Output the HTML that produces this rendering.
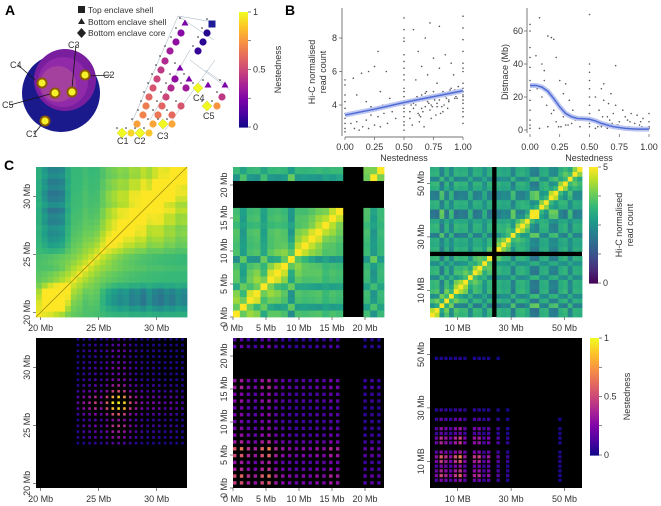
<!DOCTYPE html>
<html><head><meta charset="utf-8">
<style>
html,body{margin:0;padding:0;background:#fff;}
svg{display:block;font-family:"Liberation Sans",sans-serif;}
.t{font-size:9px;fill:#333;}
.lab{font-size:14px;font-weight:bold;fill:#000;}
</style></head>
<body>
<svg id="fig" width="661" height="506" viewBox="0 0 661 506">
<text class="lab" x="5" y="15">A</text>
<text class="lab" x="285" y="15">B</text>
<text class="lab" x="4" y="170">C</text>
<g>
<rect x="78" y="6" width="7" height="7" fill="#222"/><text class="t" x="88" y="13" style="font-size:8.5px">Top enclave shell</text>
<polygon points="81.5,18 78,24 85,24" fill="#222"/><text class="t" x="88" y="25" style="font-size:8.5px">Bottom enclave shell</text>
<polygon points="81.5,28 86,33 81.5,38 77,33" fill="#222"/><text class="t" x="88" y="36" style="font-size:8.5px">Bottom enclave core</text>
</g>
<g id="circ">
<circle cx="61" cy="93" r="39" fill="#1a1a8c"/>
<circle cx="65" cy="80" r="31" fill="#7a1ea0"/>
<circle cx="63" cy="82" r="25" fill="#902aa8"/>
<circle cx="58" cy="84" r="18" fill="#a4409e"/>
</g>
<g id="tree"></g>
<g id="g" ></g>
</svg>
<script>
const NS="http://www.w3.org/2000/svg";
const fig=document.getElementById('g');
function el(tag,attrs,parent,text){const e=document.createElementNS(NS,tag);for(const k in attrs)e.setAttribute(k,attrs[k]);if(text!==undefined)e.textContent=text;(parent||fig).appendChild(e);return e;}
const VIR=[[68,1,84],[72,40,120],[62,74,137],[49,104,142],[38,130,142],[31,158,137],[53,183,121],[109,205,89],[180,222,44],[253,231,37]];
const PLA=[[13,8,135],[75,3,161],[125,3,168],[168,34,150],[203,70,121],[229,107,93],[248,148,65],[253,195,40],[240,249,33]];
function cmap(st,v){v=Math.max(0,Math.min(1,v));const p=v*(st.length-1);const i=Math.min(st.length-2,Math.floor(p));const f=p-i;const a=st[i],b=st[i+1];return `rgb(${Math.round(a[0]+(b[0]-a[0])*f)},${Math.round(a[1]+(b[1]-a[1])*f)},${Math.round(a[2]+(b[2]-a[2])*f)})`;}

// ---------- Panel A data ----------
const circDots=[[42,83,'C4'],[55,93,'C5'],[72,92,'C3'],[85,75,'C2'],[45,121,'C1']];
const circLabels=[[10,68,35,80,'C4'],[68,48,72,88,'C3'],[103,78,88,76,'C2'],[2,108,50,94,'C5'],[26,137,42,124,'C1']];
const cg=document.getElementById('circ');
circLabels.forEach(l=>{const ln=el('line',{x1:l[0]+8,y1:l[1]-3,x2:l[2],y2:l[3],stroke:'#111','stroke-width':0.8},cg);

const t=el('text',{x:l[0],y:l[1],class:'t','font-size':'8.5'},cg,l[4]);
});
circDots.forEach(d=>{el('circle',{cx:d[0],cy:d[1],r:5.5,fill:'#8a5a00'},cg);const c=el('circle',{cx:d[0],cy:d[1],r:3.6,fill:'#f5f02a'},cg);
});

const treeNodes=[
[122,133,'d',1],[131,133,'c',0.92],[140,133,'d',1],[149,133,'c',0.88],
[137,124,'c',0.78],[153,124,'c',0.8],[163,124,'d',1],[172,124,'c',0.8],
[143,115,'c',0.7],[158,115,'c',0.66],[172,115,'c',0.62],
[146,106,'c',0.68],[162,106,'c',0.6],[181,106,'c',0.55],[207,106,'d',1],[217,106,'c',0.75],
[149,97,'c',0.6],[166,97,'c',0.5],[222,97,'c',0.45],
[153,88,'c',0.55],[171,88,'c',0.4],[186,88,'c',0.35],[198,88,'d',1],
[157,79,'c',0.5],[175,79,'c',0.3],[208,85,'t',0.25],[225,85,'t',0.25],
[161,70,'c',0.45],[189,79,'t',0.25],
[165,61,'c',0.4],[180,68,'t',0.25],
[170,51,'c',0.35],[198,51,'c',0.08],
[176,42,'c',0.3],[203,42,'c',0.06],
[181,33,'c',0.28],[207,33,'c',0.05],
[185,23,'t',0.25],[212,24,'s',0.0]];
const tg=document.getElementById('tree');
const edges=[[132,122,178,16],[178,16,214,40],[178,16,213,22],[150,120,190,50],[165,130,215,60],[190,60,230,90],[205,70,225,84]];
edges.forEach(e=>{const l=el('line',{x1:e[0],y1:e[1],x2:e[2],y2:e[3],stroke:'#9ab','stroke-width':0.5},tg);});
treeNodes.forEach(n=>{const col=cmap(PLA,n[3]);let s;
if(n[2]==='c')s=el('circle',{cx:n[0],cy:n[1],r:3.6,fill:col},tg);
else if(n[2]==='d')s=el('polygon',{points:`${n[0]},${n[1]-5} ${n[0]+5},${n[1]} ${n[0]},${n[1]+5} ${n[0]-5},${n[1]}`,fill:col,stroke:'#cc2','stroke-width':0.5},tg);
else if(n[2]==='t')s=el('polygon',{points:`${n[0]},${n[1]-3.5} ${n[0]+3.5},${n[1]+2.5} ${n[0]-3.5},${n[1]+2.5}`,fill:col},tg);
else s=el('rect',{x:n[0]-3.5,y:n[1]-3.5,width:7,height:7,fill:'#1c1c96'},tg);

el('circle',{cx:n[0]-5,cy:n[1]-5,r:0.8,fill:'#222'},tg);});
[[117,144,'C1'],[134,144,'C2'],[157,139,'C3'],[193,101,'C4'],[203,119,'C5']].forEach(l=>{const t=el('text',{x:l[0],y:l[1],class:'t','font-size':'8.5'},tg,l[2]);});

function colorbar(x,y,w,h,st,ticks,labels,title,name){
 const g=el('g',{});
 const n=60;for(let i=0;i<n;i++){el('rect',{x:x,y:y+h*i/n,width:w,height:h/n+0.6,fill:cmap(st,1-i/n)},g);}
 ticks.forEach((tv,i)=>{const yy=y+h*(1-tv);el('line',{x1:x+w,x2:x+w+3,y1:yy,y2:yy,stroke:'#333','stroke-width':0.6},g);
 if(labels[i]!=='')el('text',{x:x+w+5,y:yy+3,class:'t'},g,labels[i]);});
 title.forEach((tt,i)=>{el('text',{x:0,y:0,class:'t','text-anchor':'middle',transform:`translate(${tt[0]},${y+h/2}) rotate(-90)`},g,tt[1]);});
}
colorbar(239,12,9,115,PLA,[1,0.75,0.5,0.25,0],['1','','0.5','','0'],[[281,'Nestedness']],'nestedness-colorbar-a');

// ---------- Panel B scatter 1 ----------
const s1X=[0,0,0,0,0,0,0,0,0,0,0.05,0.08,0.1,0.12,0.15,0.18,0.2,0.22,0.25,0.28,0.3,0.33,0.36,0.4,0.43,0.1,0.14,0.2,0.25,0.28,0.35,0.18,0.3,0.38,0.07,0.22,0.32,0.12,
0.5,0.5,0.5,0.5,0.5,0.5,0.5,0.5,0.5,0.5,0.5,0.5,0.5,0.5,0.5,0.5,0.5,0.5,0.5,0.5,
0.55,0.58,0.6,0.62,0.65,0.68,0.7,0.72,0.75,0.78,0.8,0.82,0.85,0.88,0.9,0.93,0.95,0.57,0.63,0.67,0.73,0.77,0.83,0.87,0.6,0.65,0.7,0.75,0.8,0.85,0.9,0.58,0.68,0.72,0.8,0.92,0.62,0.78,
0.56,0.61,0.64,0.69,0.74,0.79,0.84,0.89,0.94,0.66,0.71,0.76,0.81,0.86,0.91,0.96,
0.55,0.6,0.65,0.7,0.75,0.8,0.85,0.9,0.95,0.58,0.63,0.68,0.73,0.78,0.83,0.88,0.93,
1,1,1,1,1,1,1,1,1,1,1,1,1,1,1,1,1,1];
const s1Y=[5.5,5.2,4.6,4.2,3.8,3.5,3.2,2.9,2.6,2.4,2.9,2.6,3.0,2.5,2.7,3.1,2.6,3.4,2.8,3.3,2.7,3.5,2.9,3.6,3.2,4.6,5.9,6.0,6.3,7.2,6.0,4.2,4.8,4.4,5.6,3.9,4.0,3.6,
9.2,8.5,7.8,7.0,6.2,5.5,4.8,4.2,3.6,3.0,2.5,3.3,4.0,5.0,2.8,3.8,4.5,5.8,6.6,8.0,
3.2,3.8,4.2,3.5,4.6,3.9,4.4,3.7,4.8,4.1,4.5,3.9,4.7,4.2,5.0,4.4,4.8,2.8,3.0,2.7,3.2,3.4,3.6,3.8,5.5,6.3,5.8,6.8,6.2,7.0,6.5,8.5,8.0,8.9,8.7,5.8,7.2,5.3,
4.0,4.5,3.3,4.8,3.9,4.6,4.0,4.9,4.5,3.6,4.1,4.3,3.5,4.4,4.7,5.1,
3.6,4.0,3.8,4.2,4.4,4.3,4.5,4.6,4.4,4.1,3.4,4.7,4.0,3.9,4.8,4.3,4.9,
9.3,8.6,7.9,7.2,6.5,6.0,5.3,4.8,4.3,3.8,3.3,2.9,4.1,4.5,5.0,4.6,3.6,6.2];
const s1TrendX=[0,0.25,0.5,0.75,1];
const s1TrendY=[3.4,3.75,4.15,4.5,4.85];
const s1xs=v=>345+v*118, s1ys=v=>105-(v-4)*16.75;
const s1xTicks=[0,0.25,0.5,0.75,1], s1xLabels=['0.00','0.25','0.50','0.75','1.00'];
const s1yTicks=[4,6,8], s1yLabels=['4','6','8'];
(function(){const g=el('g',{});
el('line',{x1:342,y1:8,x2:342,y2:136,stroke:'#444','stroke-width':0.7},g);
el('line',{x1:345,y1:137,x2:463,y2:137,stroke:'#444','stroke-width':0.7},g);
s1X.forEach((x,i)=>{const p=el('circle',{cx:s1xs(x),cy:s1ys(s1Y[i]),r:0.8,fill:'#555'},g);});
let d='';s1TrendX.forEach((x,i)=>{d+=(i?'L':'M')+s1xs(x)+','+s1ys(s1TrendY[i]);});
el('path',{d:d,stroke:'#bcc6ee',fill:'none','stroke-width':5},g);
const tl=el('path',{d:d,stroke:'#4f6bd8',fill:'none','stroke-width':1.5},g);
s1xTicks.forEach((t,i)=>{el('line',{x1:s1xs(t),x2:s1xs(t),y1:137,y2:140,stroke:'#444','stroke-width':0.6},g);el('text',{x:s1xs(t),y:150,class:'t','text-anchor':'middle'},g,s1xLabels[i]);});
s1yTicks.forEach((t,i)=>{el('line',{x1:339,x2:342,y1:s1ys(t),y2:s1ys(t),stroke:'#444','stroke-width':0.6},g);el('text',{x:337,y:s1ys(t)+3,class:'t','text-anchor':'end'},g,s1yLabels[i]);});
el('text',{x:404,y:161,class:'t','text-anchor':'middle'},g,'Nestedness');
el('text',{x:0,y:0,class:'t','text-anchor':'middle',transform:'translate(315,72) rotate(-90)'},g,'Hi-C normalised');
el('text',{x:0,y:0,class:'t','text-anchor':'middle',transform:'translate(326,72) rotate(-90)'},g,'read count');
})();

// ---------- Panel B scatter 2 ----------
const s2X=[0,0,0,0,0,0,0,0,0,0,0,0,0.05,0.08,0.1,0.12,0.15,0.18,0.2,0.22,0.25,0.28,0.3,0.33,0.36,0.4,0.06,0.1,0.14,0.18,0.22,0.26,0.3,0.12,0.2,0.28,0.35,0.08,0.15,0.24,0.32,0.38,0.42,
0.5,0.5,0.5,0.5,0.5,0.5,0.5,0.5,0.5,0.5,0.5,
0.55,0.58,0.6,0.62,0.65,0.68,0.7,0.72,0.75,0.78,0.8,0.82,0.85,0.88,0.9,0.93,0.95,0.57,0.6,0.63,0.67,0.7,0.73,0.77,0.83,0.87,0.92,0.62,0.66,0.72,0.55,0.6,0.65,0.7,0.75,0.8,0.85,0.9,
0.56,0.59,0.61,0.64,0.69,0.74,0.79,0.84,0.89,0.94,
1,1,1,1];
const s2Y=[64,60,50,44,38,30,24,18,12,6,3,1,45,68,40,36,57,56,55,44,30,22,28,18,12,8,25,20,15,10,5,2,3,30,12,8,4,1,2,2,3,6,2,
40,35,30,25,20,15,10,7,4,2,70,
20,12,25,18,8,22,10,15,5,12,8,6,10,4,9,5,7,2,3,4,6,2,3,1,2,1,3,28,16,39,1,2,1,3,1,2,1,1,
5,3,8,2,4,3,2,5,1,2,
10,5,2,1];
const s2TrendX=[0,0.05,0.1,0.15,0.2,0.25,0.3,0.35,0.4,0.45,0.5,0.55,0.6,0.65,0.7,0.8,0.9,1];
const s2TrendY=[27,27,26,23.5,19,14,10,8,7,6.8,6.5,5.5,4,3,2,1,0.5,0.5];
const s2xs=v=>530+v*119, s2ys=v=>130-v*1.65;
const s2xTicks=[0,0.25,0.5,0.75,1], s2xLabels=['0.00','0.25','0.50','0.75','1.00'];
const s2yTicks=[0,20,40,60], s2yLabels=['0','20','40','60'];
(function(){const g=el('g',{});
el('line',{x1:527,y1:8,x2:527,y2:133,stroke:'#444','stroke-width':0.7},g);
s2X.forEach((x,i)=>{const p=el('circle',{cx:s2xs(x),cy:s2ys(s2Y[i]),r:0.8,fill:'#555'},g);});
let d='';s2TrendX.forEach((x,i)=>{d+=(i?'L':'M')+s2xs(x)+','+s2ys(s2TrendY[i]);});
el('path',{d:d,stroke:'#bcc6ee',fill:'none','stroke-width':5},g);
const tl=el('path',{d:d,stroke:'#4f6bd8',fill:'none','stroke-width':1.5},g);
s2xTicks.forEach((t,i)=>{el('line',{x1:s2xs(t),x2:s2xs(t),y1:134,y2:137,stroke:'#444','stroke-width':0.6},g);el('text',{x:s2xs(t),y:150,class:'t','text-anchor':'middle'},g,s2xLabels[i]);});
s2yTicks.forEach((t,i)=>{el('line',{x1:524,x2:527,y1:s2ys(t),y2:s2ys(t),stroke:'#444','stroke-width':0.6},g);el('text',{x:523,y:s2ys(t)+3,class:'t','text-anchor':'end'},g,s2yLabels[i]);});
el('text',{x:589,y:161,class:'t','text-anchor':'middle'},g,'Nestedness');
el('text',{x:0,y:0,class:'t','text-anchor':'middle',transform:'translate(508,72) rotate(-90)'},g,'Distnace (Mb)');
})();

// ---------- Panel C heatmaps ----------
const comp1=[0.2,0.6,1,1,0.9,0.3,0,0,-0.1,0,0,-0.2,-0.4,-0.5,-0.6,-0.5,-0.7,-0.6,-0.8,-0.5,-0.7,-0.8,-0.6,-0.7,-0.5,-0.6];
const comp2=[0.6,-0.5,0.5,0.6,-0.4,0.5,0.6,0.4,-0.8,0.5,0.4,0.5,0.6,0.3,0.5,0.4,0.2,0.5,-0.3,0.4,-0.6,0.3];
const comp3=[0.6,0.7,-0.8,0.6,-0.5,0.7,0.5,0.6,-0.4,0.6,0.5,-0.3,0.6,0.8,0.5,0.3,0.4,-0.7,0.5,0.6,0.3,-0.8,-0.9,0.4,0.5,-0.6,-0.7,0.4,0.6,-0.5,0.5,0.4];
const nest1=[0,0,0,0,0,0,0,0.15,0.3,0.35,0.45,0.3,0.55,0.9,1,0.85,0.5,0.35,0.25,0.2,0.25,0.2,0.15,0.2,0.15,0.1];
const nest2=[0.7,0.8,0.55,0.45,0.75,0.85,0.5,0.4,0.35,0.3,0.35,0.3,0.4,0.35,0.5,0.45,0,0,0,0.2,0.25,0.2];
const nest3=[0,0.3,0.6,0.45,0.3,0.55,0.7,0.35,0,0.45,0.5,0.2,0.35,0,0.2,0,0.1,0,0,0,0,0,0,0,0,0,0,0.05,0,0,0,0];
const mask2X=[16.3,18.8], mask2Y=[15.6,19.7], mask3=[22.5,25.5];

function heatmap(name,x0,y0,w,h,n,fn,gap){const g=el('g',{});
 el('rect',{x:x0,y:y0,width:w,height:h,fill:'#000'},g);
 const cw=w/n,ch=h/n;
 for(let i=0;i<n;i++)for(let j=0;j<n;j++){const c=fn(i,j);if(!c)continue;
  el('rect',{x:(x0+i*cw).toFixed(2),y:(y0+h-(j+1)*ch).toFixed(2),width:(gap?cw*gap:cw+0.4).toFixed(2),height:(gap?ch*gap:ch+0.4).toFixed(2),fill:c},g);}
 return g;}
function axes(g,x0,y0,w,h,ticks,labels,scale){
 ticks.forEach((t,i)=>{const x=scale(t);el('line',{x1:x,x2:x,y1:y0+h,y2:y0+h+3,stroke:'#333','stroke-width':0.6},g);el('text',{x:x,y:y0+h+14,class:'t','text-anchor':'middle'},g,labels[i]);});
}
function yaxes(g,x0,ticks,labels,ys){ticks.forEach((t,i)=>{const y=ys(t);el('line',{x1:x0-3,x2:x0,y1:y,y2:y,stroke:'#333','stroke-width':0.6},g);el('text',{x:0,y:0,class:'t','text-anchor':'middle',transform:`translate(${x0-6},${y}) rotate(-90)`},g,labels[i]);});}

const t1Ticks=[20,25,30], t1Labels=['20 Mb','25 Mb','30 Mb'];
function hic1(i,j){const d=Math.abs(i-j);return cmap(VIR,0.66+0.32*Math.exp(-d/5)+0.35*comp1[i]*comp1[j]);}
let g1=heatmap('hic-heatmap-1',36,167,151,150,26,hic1,0);
el('line',{x1:36,y1:317,x2:187,y2:167,stroke:'#9a8a10','stroke-width':0.8},g1);
axes(g1,36,167,151,150,t1Ticks,t1Labels,v=>36+(v-19.6)*11.6);yaxes(g1,36,t1Ticks,t1Labels,v=>317-(v-19.6)*11.6);
let b1=heatmap('nestedness-heatmap-1',36,338,151,150,26,(i,j)=>{const v=nest1[i]*nest1[j];return v>0?cmap(PLA,Math.min(1,v*1.05)):null;},0.45);
axes(b1,36,338,151,150,t1Ticks,t1Labels,v=>36+(v-19.6)*11.6);yaxes(b1,36,t1Ticks,t1Labels,v=>488-(v-19.6)*11.6);

const t2Ticks=[0,5,10,15,20], t2Labels=['0 Mb','5 Mb','10 Mb','15 Mb','20 Mb'];
const in2=(v,m)=>v+0.5>m[0]&&v+0.5<m[1];
function hic2(i,j){if(in2(i,mask2X)||in2(j,mask2Y))return null;const d=Math.abs(i-j);return cmap(VIR,0.62+0.38*Math.exp(-d/2)+0.3*comp2[i]*comp2[j]);}
let g2=heatmap('hic-heatmap-2',233,167,151,150,22,hic2,0);
axes(g2,233,167,151,150,t2Ticks,t2Labels,v=>233+v*6.6);yaxes(g2,233,t2Ticks,t2Labels,v=>317-v*6.6);
let b2=heatmap('nestedness-heatmap-2',233,338,151,150,22,(i,j)=>{if(in2(j,mask2Y))return null;const v=nest2[i]*nest2[j];return v>0?cmap(PLA,Math.min(1,v*0.95)):null;},0.5);
axes(b2,233,338,151,150,t2Ticks,t2Labels,v=>233+v*6.6);yaxes(b2,233,t2Ticks,t2Labels,v=>488-v*6.6);

const t3Ticks=[10,30,50], t3Labels=['10 MB','30 Mb','50 Mb'];
const s3=57/32;
function hic3(i,j){const a=i*s3+s3/2,b=j*s3+s3/2;if((a>mask3[0]&&a<mask3[1])||(b>mask3[0]&&b<mask3[1]))return null;const d=Math.abs(i-j);return cmap(VIR,0.55+0.42*Math.exp(-d/1.5)+0.3*comp3[i]*comp3[j]);}
let g3=heatmap('hic-heatmap-3',430,167,152,150,32,hic3,0);
axes(g3,430,167,152,150,t3Ticks,t3Labels,v=>431+v*2.67);yaxes(g3,430,t3Ticks,t3Labels,v=>317-v*2.67);
let b3=heatmap('nestedness-heatmap-3',430,338,152,150,32,(i,j)=>{const v=nest3[i]*nest3[j];return v>0.01?cmap(PLA,Math.min(1,v*1.4)):null;},0.7);
axes(b3,430,338,152,150,t3Ticks,t3Labels,v=>431+v*2.67);yaxes(b3,430,t3Ticks,t3Labels,v=>488-v*2.67);

colorbar(589,167,9,116,VIR,[1,0.75,0.5,0.25,0],['5','','','','0'],[[622,'Hi-C normalised'],[633,'read count']],'hic-colorbar');
colorbar(590,338,9,117,PLA,[1,0.75,0.5,0.25,0],['1','','0.5','','0'],[[630,'Nestedness']],'nestedness-colorbar-c');
</script>
</body></html>
